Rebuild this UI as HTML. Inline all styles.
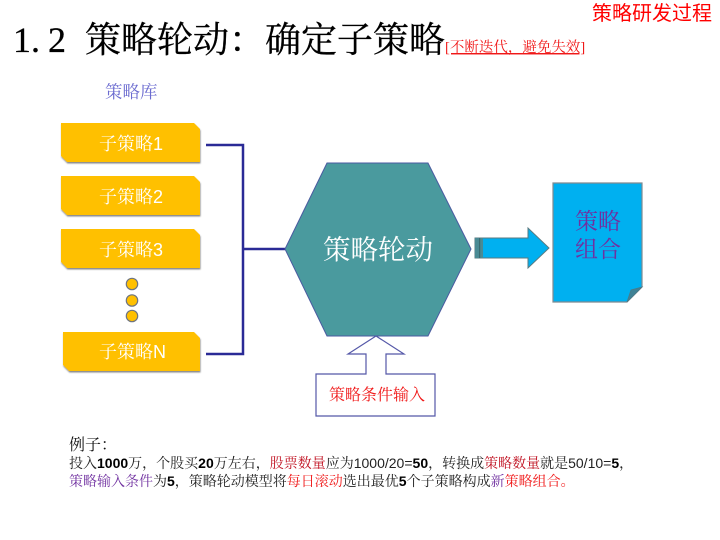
<!DOCTYPE html>
<html><head><meta charset="utf-8"><style>
html,body{margin:0;padding:0;background:#fff;width:720px;height:540px;overflow:hidden}
svg{display:block}
text{font-family:"Liberation Sans","Noto Serif CJK SC",serif}
.s{font-family:"Liberation Serif","Noto Serif CJK SC",serif}
.b{font-weight:bold}
</style></head><body>
<svg width="720" height="540" viewBox="0 0 720 540" xmlns="http://www.w3.org/2000/svg">
<defs><filter id="sh" x="-5%" y="-10%" width="110%" height="130%"><feDropShadow dx="0.5" dy="1.5" stdDeviation="0.8" flood-color="#555" flood-opacity="0.7"/></filter></defs>

<text class="s" x="13 31 48" y="52" font-size="36" fill="#000" stroke="#000" stroke-width="0.3">1.2</text>
<text class="s" x="85" y="52" font-size="36" fill="#000" stroke="#000" stroke-width="0.3">策略轮动&#xFF1A;确定子策略</text>
<text class="s" x="445" y="52" font-size="14.5" fill="#f01818" text-decoration="underline">[不断迭代&#xFF0C;避免失效]</text>
<text x="592" y="20" font-size="20" fill="#f00" textLength="120" style="font-family:'Noto Sans CJK SC',sans-serif">策略研发过程</text>
<text x="105" y="98" font-size="17.5" fill="#6c6cd0">策略库</text>

<g fill="#ffc000" filter="url(#sh)">
<polygon points="61,123 194,123 200,129 200,162 67,162 61,156"/>
<polygon points="61,176 194,176 200,182 200,215 67,215 61,209"/>
<polygon points="61,229 194,229 200,235 200,268 67,268 61,262"/>
<polygon points="63,332 194,332 200,338 200,371 69,371 63,365"/>
</g>
<g font-size="18" fill="#fff">
<text x="99" y="150">子策略1</text>
<text x="99" y="203">子策略2</text>
<text x="99" y="256">子策略3</text>
<text x="99" y="358">子策略N</text>
</g>
<g fill="#ffc000" stroke="#6e7480" stroke-width="1.2">
<circle cx="132" cy="284" r="5.7"/><circle cx="132" cy="300.5" r="5.7"/><circle cx="132" cy="316" r="5.7"/>
</g>

<path d="M206 145H243V354H206M243 249H285" fill="none" stroke="#2a2a96" stroke-width="2.5"/>

<polygon points="327,163 428,163 471,249 428,336 327,336 285,249" fill="#4a9a9e" stroke="#4a5aa0" stroke-width="1"/>
<text x="323" y="259" font-size="27.5" fill="#fff">策略轮动</text>

<polygon points="475,238 528,238 528,228 549,248 528,268 528,258 475,258" fill="#00b0f0" stroke="#5a7a80" stroke-width="1"/>
<rect x="475" y="238" width="8" height="20" fill="#4a8a94"/>
<rect x="479" y="238" width="1.2" height="20" fill="#3a6a70"/>

<polygon points="553,183 642,183 642,287 627,302 553,302" fill="#00b0f0" stroke="#808a90" stroke-width="1.2"/>
<polygon points="627,302 631,290 642,287" fill="#3f8296" stroke="#4a7a88" stroke-width="0.8"/>
<g font-size="23" fill="#7030a0">
<text x="575" y="229">策略</text>
<text x="575" y="257">组合</text>
</g>

<polygon points="376,336 348,354 366,354 366,374 316,374 316,416 435,416 435,374 386,374 386,354 404,354" fill="#fff" stroke="#5558a8" stroke-width="1.2"/>
<text x="329" y="400" font-size="16" fill="#f01818">策略条件输入</text>

<text x="69" y="450" font-size="16" fill="#111">例子&#xFF1A;</text>
<text x="69" y="468" font-size="14" fill="#222">投入<tspan class="b" fill="#000">1000</tspan>万&#xFF0C;个股买<tspan class="b" fill="#000">20</tspan>万左右&#xFF0C;<tspan fill="#c01020">股票数量</tspan>应为1000/20=<tspan class="b" fill="#000">50</tspan>&#xFF0C;转换成<tspan fill="#c01020">策略数量</tspan>就是50/10=<tspan class="b" fill="#000">5</tspan>&#xFF0C;</text>
<text x="69" y="486" font-size="14" fill="#222"><tspan fill="#7030a0">策略输入条件</tspan>为<tspan class="b" fill="#000">5</tspan>&#xFF0C;策略轮动模型将<tspan fill="#f01818">每日滚动</tspan>选出最优<tspan class="b" fill="#000">5</tspan>个子策略构成<tspan fill="#7030a0">新</tspan><tspan fill="#f01818">策略组合。</tspan></text>
</svg>
</body></html>
